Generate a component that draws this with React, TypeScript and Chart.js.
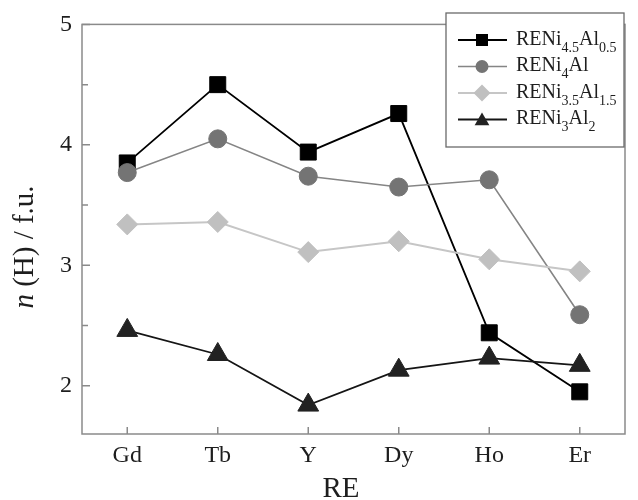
import React, { useEffect, useRef } from "react";
import { Chart, registerables } from "chart.js";

Chart.register(...registerables);

// ---------- data ----------
const categories = ["Gd", "Tb", "Y", "Dy", "Ho", "Er"];
const seriesNames = [
  "RENi_{4.5}Al_{0.5}",
  "RENi_{4}Al",
  "RENi_{3.5}Al_{1.5}",
  "RENi_{3}Al_{2}",
];
const seriesPlain = ["RENi4.5Al0.5", "RENi4Al", "RENi3.5Al1.5", "RENi3Al2"];
const ni45al05 = [3.85, 4.5, 3.94, 4.26, 2.44, 1.95];
const ni4al = [3.77, 4.05, 3.74, 3.65, 3.71, 2.59];
const ni35al15 = [3.34, 3.36, 3.11, 3.2, 3.05, 2.95];
const ni3al2 = [2.46, 2.26, 1.84, 2.13, 2.23, 2.17];
const yMajorTicks = [2, 3, 4, 5];
const yMinorTicks = [2.5, 3.5, 4.5];
const yMin = 1.6;
const yMax = 5;
const xTitle = "RE";
const yTitleItalic = "n";
const yTitleRest = " (H) / f.u.";

// ---------- styles ----------
const FONT = '"Liberation Serif", "Times New Roman", serif';
const TEXT = "#1e1e1e";
const AXIS = "#8a8a8a";
const styles = [
  { color: "#000000", line: "#000000", lw: 1.8, shape: "rect", r: 11.3, lr: 8.5 },
  { color: "#747474", line: "#858585", lw: 1.6, shape: "circle", r: 9, lr: 6.5 },
  { color: "#c0c0c0", line: "#c6c6c6", lw: 2, shape: "rectRot", r: 10.5, lr: 8.5 },
  { color: "#222222", line: "#151515", lw: 1.8, shape: "triangle", r: 12, lr: 8.5 },
];
const seriesValues = [ni45al05, ni4al, ni35al15, ni3al2];

function drawMarker(ctx: CanvasRenderingContext2D, shape: string, x: number, y: number, r: number, color: string) {
  ctx.save();
  ctx.fillStyle = color;
  ctx.beginPath();
  if (shape === "rect") {
    const s = r * Math.SQRT1_2;
    ctx.rect(x - s, y - s, 2 * s, 2 * s);
  } else if (shape === "circle") {
    ctx.arc(x, y, r, 0, Math.PI * 2);
  } else if (shape === "rectRot") {
    ctx.moveTo(x, y - r);
    ctx.lineTo(x + r, y);
    ctx.lineTo(x, y + r);
    ctx.lineTo(x - r, y);
    ctx.closePath();
  } else {
    ctx.moveTo(x, y - r);
    ctx.lineTo(x + r * 0.866, y + r / 2);
    ctx.lineTo(x - r * 0.866, y + r / 2);
    ctx.closePath();
  }
  ctx.fill();
  ctx.restore();
}

function parseLabel(s: string) {
  const parts: { t: string; sub: boolean }[] = [];
  const re = /_\{([^}]*)\}/g;
  let last = 0;
  let m: RegExpExecArray | null;
  while ((m = re.exec(s))) {
    if (m.index > last) parts.push({ t: s.slice(last, m.index), sub: false });
    parts.push({ t: m[1], sub: true });
    last = m.index + m[0].length;
  }
  if (last < s.length) parts.push({ t: s.slice(last), sub: false });
  return parts;
}

const framePlugin = {
  id: "frameTicks",
  beforeDatasetsDraw(chart: any) {
    const { ctx, chartArea: a, scales } = chart;
    ctx.save();
    ctx.strokeStyle = AXIS;
    ctx.lineWidth = 1.5;
    ctx.strokeRect(a.left, a.top, a.right - a.left, a.bottom - a.top);
    ctx.beginPath();
    for (const v of yMajorTicks) {
      const y = scales.y.getPixelForValue(v);
      ctx.moveTo(a.left, y);
      ctx.lineTo(a.left + 8, y);
    }
    for (const v of yMinorTicks) {
      const y = scales.y.getPixelForValue(v);
      ctx.moveTo(a.left, y);
      ctx.lineTo(a.left + 6, y);
    }
    categories.forEach((_, i) => {
      const x = scales.x.getPixelForValue(i);
      ctx.moveTo(x, a.bottom);
      ctx.lineTo(x, a.bottom - 7);
    });
    ctx.stroke();
    ctx.restore();
  },
};

const overlayPlugin = {
  id: "overlay",
  afterDraw(chart: any) {
    const { ctx, chartArea: a } = chart;
    ctx.save();
    // legend box
    const bx = 446, by = 13, bw = 178, bh = 134;
    ctx.fillStyle = "#ffffff";
    ctx.fillRect(bx, by, bw, bh);
    ctx.strokeStyle = "#6a6a6a";
    ctx.lineWidth = 1.3;
    ctx.strokeRect(bx, by, bw, bh);
    const rows = [40, 66.5, 93, 119.5];
    seriesNames.forEach((name, i) => {
      const st = styles[i];
      const y = rows[i];
      ctx.strokeStyle = st.line;
      ctx.lineWidth = st.lw;
      ctx.beginPath();
      ctx.moveTo(458, y);
      ctx.lineTo(507, y);
      ctx.stroke();
      drawMarker(ctx, st.shape, 482, st.shape === "triangle" ? y + 1.5 : y, st.lr, st.color);
      let x = 516;
      const base = y + 4.5;
      ctx.fillStyle = TEXT;
      ctx.textBaseline = "alphabetic";
      ctx.textAlign = "left";
      for (const p of parseLabel(name)) {
        ctx.font = p.sub ? `14px ${FONT}` : `20px ${FONT}`;
        ctx.fillText(p.t, x, p.sub ? base + 7 : base);
        x += ctx.measureText(p.t).width;
      }
    });
    // x title
    ctx.fillStyle = TEXT;
    ctx.font = `29px ${FONT}`;
    ctx.textAlign = "center";
    ctx.textBaseline = "alphabetic";
    ctx.fillText(xTitle, 341, 497);
    // y title
    ctx.translate(33, 247);
    ctx.rotate(-Math.PI / 2);
    ctx.textAlign = "left";
    ctx.font = `italic 29px ${FONT}`;
    const w1 = ctx.measureText(yTitleItalic).width;
    ctx.font = `29px ${FONT}`;
    const w2 = ctx.measureText(yTitleRest).width;
    let sx = -(w1 + w2) / 2;
    ctx.font = `italic 29px ${FONT}`;
    ctx.fillText(yTitleItalic, sx, 0);
    ctx.font = `29px ${FONT}`;
    ctx.fillText(yTitleRest, sx + w1, 0);
    ctx.restore();
  },
};

export default function App() {
  const ref = useRef<HTMLCanvasElement>(null);
  useEffect(() => {
    if (!ref.current) return;
    const chart = new Chart(ref.current, {
      type: "line",
      data: {
        labels: categories,
        datasets: seriesValues.map((vals, i) => ({
          label: seriesPlain[i],
          data: vals,
          borderColor: styles[i].line,
          borderWidth: styles[i].lw,
          backgroundColor: styles[i].color,
          pointBackgroundColor: styles[i].color,
          pointBorderColor: styles[i].color,
          pointBorderWidth: 1,
          pointStyle: styles[i].shape as any,
          pointRadius: styles[i].r,
          pointHoverRadius: styles[i].r,
          tension: 0,
          fill: false,
          order: 4 - i,
        })),
      },
      options: {
        animation: false,
        responsive: false,
        maintainAspectRatio: false,
        layout: { padding: { top: 22, right: 1, left: 0, bottom: 0 } },
        plugins: { legend: { display: false }, tooltip: { enabled: false } },
        scales: {
          x: {
            type: "category",
            offset: true,
            grid: { display: false, drawTicks: false },
            border: { display: false },
            ticks: { color: TEXT, font: { family: FONT, size: 24 }, padding: 7, maxRotation: 0 },
            afterFit: (s: any) => {
              s.height = 66;
            },
          },
          y: {
            type: "linear",
            min: yMin,
            max: yMax,
            grid: { display: false, drawTicks: false },
            border: { display: false },
            ticks: { color: TEXT, font: { family: FONT, size: 24 }, padding: 10 },
            afterBuildTicks: (s: any) => {
              s.ticks = yMajorTicks.map((v) => ({ value: v }));
            },
            afterFit: (s: any) => {
              s.width = 82;
            },
          },
        },
      },
      plugins: [framePlugin, overlayPlugin],
    });
    return () => chart.destroy();
  }, []);
  return (
    <div style={{ position: "absolute", left: 0, top: 0, width: 638, height: 500, background: "#fff" }}>
      <canvas ref={ref} width={638} height={500} style={{ width: 638, height: 500 }} />
    </div>
  );
}
